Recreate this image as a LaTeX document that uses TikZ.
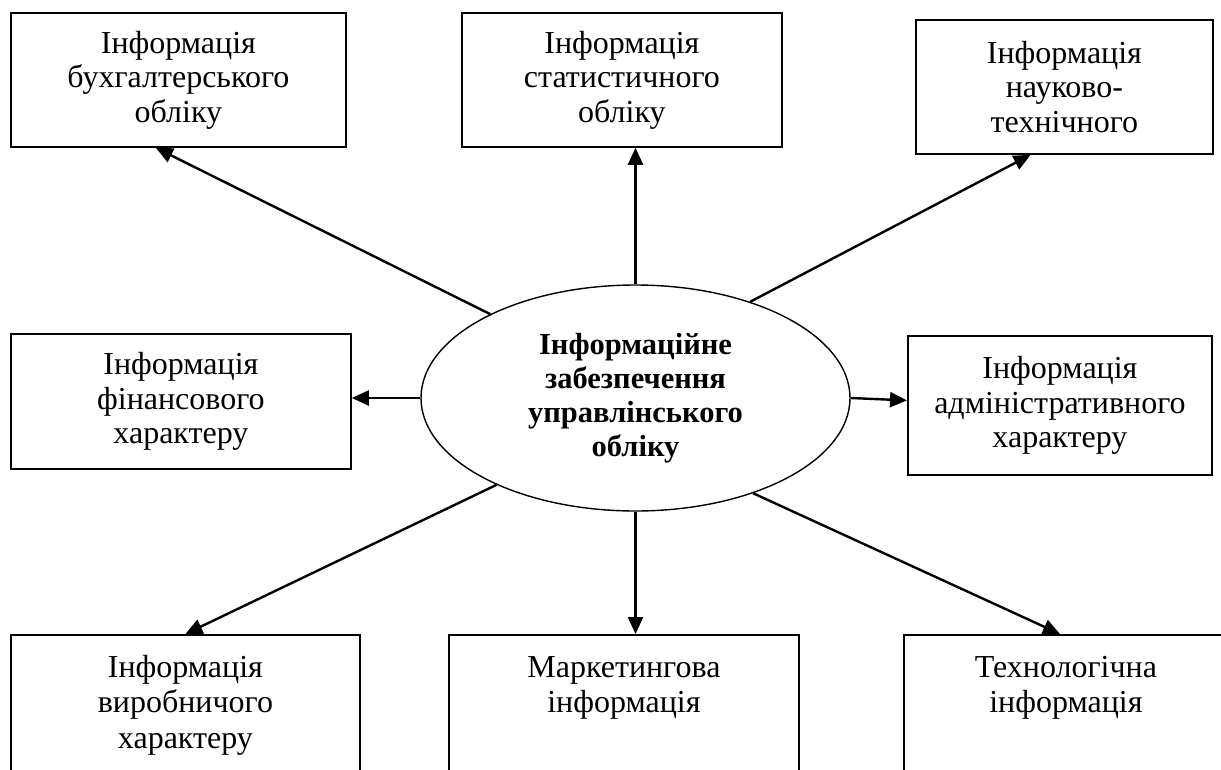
\documentclass[tikz,border=0pt]{standalone}
\usepackage{fontspec}
\setmainfont{Liberation Serif}
\usetikzlibrary{shapes.geometric,arrows.meta,calc}
\begin{document}
\begin{tikzpicture}[x=1pt,y=-1pt,
  box/.style={draw,line width=1.8pt,align=center,inner sep=0pt,anchor=north west,
    font=\fontsize{32}{34.5}\selectfont},
  lbl/.style={align=center,inner sep=0pt,anchor=north,font=\fontsize{32}{35.5}\selectfont},
  hub/.style={ellipse,draw,line width=1.4pt,inner sep=0pt,align=center,
    minimum width=429pt,minimum height=226pt,font=\bfseries\fontsize{30.5}{34}\selectfont},
  conn/.style={line width=2.4pt,-{Triangle[length=17pt,width=15pt]}}]
\useasboundingbox (0,0) rectangle (1221,769);
\clip (0,0) rectangle (1221,769);

% top row
\node[box,minimum width=335pt,minimum height=134pt] (b1) at (10,12) {Інформація\\бухгалтерського\\обліку};
\node[box,minimum width=320pt,minimum height=134pt] (b2) at (461,12) {Інформація\\статистичного\\обліку};
\node[box,minimum width=297pt,minimum height=134pt] (b3) at (915,19) {Інформація\\науково-\\технічного};

% middle row
\node[box,minimum width=340pt,minimum height=135pt] (b4) at (10,333) {Інформація\\фінансового\\характеру};
\node[box,minimum width=304pt,minimum height=139pt] (b5) at (907,335) {Інформація\\адміністративного\\характеру};

% centre
\node[hub] (c) at (635.5,398) {Інформаційне\\забезпечення\\управлінського\\обліку};

% bottom row (cut off by the page)
\node[box,minimum width=349pt,minimum height=170pt] (b7) at (10,634) {};
\node[lbl] (t7) at ($(b7.north)+(0,21)$) {Інформація\\виробничого\\характеру};
\node[box,minimum width=350pt,minimum height=170pt] (b8) at (448,634) {};
\node[lbl] (t8) at ($(b8.north)+(0,22)$) {Маркетингова\\інформація};
\node[box,minimum width=324pt,minimum height=170pt] (b9) at (903,634) {};
\node[lbl] (t9) at ($(b9.north)+(0,22)$) {Технологічна\\інформація};

% connectors
\draw[conn] (c.150) -- ($(b1.south west)!0.433!(b1.south east)$);
\draw[conn] (c.north) -- (c.north |- b2.south);
\draw[conn] (c.40) -- ($(b3.south west)!0.387!(b3.south east)$);
\draw[conn] (c.west) -- (c.west -| b4.east);
\draw[conn] (c.east) -- ($(b5.west)+(0,-5)$);
\draw[conn] (c.212) -- (b7.north);
\draw[conn] (c.south) -- (c.south |- b8.north);
\draw[conn] (c.321) -- ($(b9.north west)+(157,0)$);
\end{tikzpicture}
\end{document}
